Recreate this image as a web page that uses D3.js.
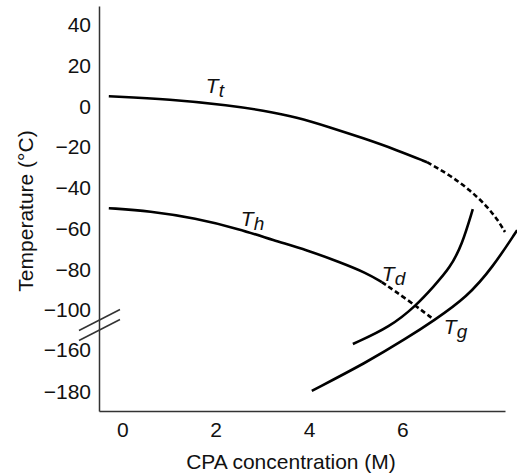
<!DOCTYPE html>
<html lang="en">
<head>
  <meta charset="UTF-8" />
  <title>CPA concentration vs temperature</title>
  <script src="https://cdn.jsdelivr.net/npm/d3@7/dist/d3.min.js"></script>
  <style>
    html, body {
      margin: 0;
      padding: 0;
      background: #fff;
    }
    svg {
      display: block;
      font-family: "Liberation Sans", Arial, sans-serif;
    }
  </style>
</head>
<body>
  <script>
    // ---- data (CPA concentration in M, temperature in °C) ----
    const xTicks = [0, 2, 4, 6];
    const yTicks = [40, 20, 0, -20, -40, -60, -80, -100, -160, -180];

    // T_t : solid part, then dashed continuation
    const ttSolid  = [[-0.29, 5.0], [1.02, 3.5], [2.31, 0.5], [3.01, -2.0], [3.74, -5.3], [4.45, -10.3], [5.16, -15.6], [5.89, -21.5], [6.53, -27.4]];
    const ttDashed = [[6.53, -27.4], [7.02, -33.8], [7.45, -41.1], [7.81, -49.0], [8.05, -55.9], [8.20, -61.7]];

    // T_h (solid) and T_d (dashed continuation)
    const thSolid  = [[-0.29, -50.0], [0.59, -51.4], [1.56, -54.9], [2.52, -60.3], [3.23, -65.7], [3.96, -70.6], [4.66, -76.5], [5.24, -81.9], [5.56, -86.3]];
    const tdDashed = [[5.56, -86.3], [6.12, -95.1], [6.66, -113.5]];

    // unlabeled inner curve
    const innerCurve = [[4.94, -151], [5.74, -125.5], [6.31, -97.5], [6.66, -88.7], [7.02, -79.4], [7.28, -68], [7.51, -50.5]];

    // T_g
    const tgCurve = [[4.06, -179.6], [5.24, -165.9], [6.10, -142], [6.66, -116.5], [7.39, -93.6], [7.94, -78.9], [8.46, -60.8]];

    const curveLabels = [
      { main: "T", sub: "t", x: 1.79, y: 6.4 },
      { main: "T", sub: "h", x: 2.54, y: -58.8 },
      { main: "T", sub: "d", x: 5.56, y: -85.8 },
      { main: "T", sub: "g", x: 6.89, y: -136 }
    ];

    const width = 517, height = 475;
    const fontSize = 21;

    const svg = d3.select("body").append("svg")
      .attr("width", width)
      .attr("height", height);

    // x scale
    const x = d3.scaleLinear().domain([-0.5, 8.2]).range([99, 505]);

    // broken y axis: -160..-100 squeezed into one tick step
    const y = d3.scaleLinear()
      .domain([-189.3, -160, -100, 49.3])
      .range([411, 350, 310, 6]);

    const fmt = d => (d < 0 ? "\u2212" + Math.abs(d) : "" + d);

    // y axis
    const gy = svg.append("g")
      .attr("transform", `translate(${x.range()[0]},0)`)
      .call(d3.axisLeft(y).tickValues(yTicks).tickFormat(fmt).tickSize(0).tickPadding(8));
    gy.select(".domain").attr("stroke", "#333").attr("stroke-width", 1.5);
    gy.selectAll("text").attr("font-size", fontSize).attr("fill", "#111")
      .attr("font-family", "'Liberation Sans', Arial, sans-serif");

    // x axis
    const gx = svg.append("g")
      .attr("transform", `translate(0,${y.range()[0]})`)
      .call(d3.axisBottom(x).tickValues(xTicks).tickSize(0).tickPadding(11));
    gx.select(".domain").attr("stroke", "#333").attr("stroke-width", 1.5);
    gx.selectAll("text").attr("font-size", fontSize).attr("fill", "#111")
      .attr("font-family", "'Liberation Sans', Arial, sans-serif");

    // axis break marks
    const x0 = x.range()[0];
    const yb = y(-100) + 15;
    [-5, 5].forEach(off => {
      svg.append("line")
        .attr("x1", x0 - 20).attr("y1", yb + off + 10.5)
        .attr("x2", x0 + 21).attr("y2", yb + off - 10.5)
        .attr("stroke", "#333")
        .attr("stroke-width", 1.5);
    });

    // axis titles
    svg.append("text")
      .attr("x", 291)
      .attr("y", 469)
      .attr("text-anchor", "middle")
      .attr("font-size", fontSize)
      .attr("fill", "#111")
      .text("CPA concentration (M)");

    svg.append("text")
      .attr("transform", "translate(33,211) rotate(-90)")
      .attr("text-anchor", "middle")
      .attr("font-size", fontSize)
      .attr("fill", "#111")
      .text("Temperature (\u00B0C)");

    // curves
    const line = d3.line()
      .x(d => x(d[0]))
      .y(d => y(d[1]))
      .curve(d3.curveBasis);

    const series = [
      { data: ttSolid, dash: null },
      { data: ttDashed, dash: "5,3" },
      { data: thSolid, dash: null },
      { data: tdDashed, dash: "5,3" },
      { data: innerCurve, dash: null },
      { data: tgCurve, dash: null }
    ];

    svg.append("g").selectAll("path")
      .data(series)
      .join("path")
        .attr("d", d => line(d.data))
        .attr("fill", "none")
        .attr("stroke", "#000")
        .attr("stroke-width", 2.6)
        .attr("stroke-dasharray", d => d.dash);

    // curve labels (italic T with subscript)
    const lbl = svg.append("g").selectAll("text")
      .data(curveLabels)
      .join("text")
        .attr("x", d => x(d.x))
        .attr("y", d => y(d.y))
        .attr("font-size", 21)
        .attr("font-style", "italic")
        .attr("fill", "#111");
    lbl.append("tspan").text(d => d.main);
    lbl.append("tspan")
      .attr("dy", 4)
      .attr("font-size", 19)
      .text(d => d.sub);
  </script>
</body>
</html>
